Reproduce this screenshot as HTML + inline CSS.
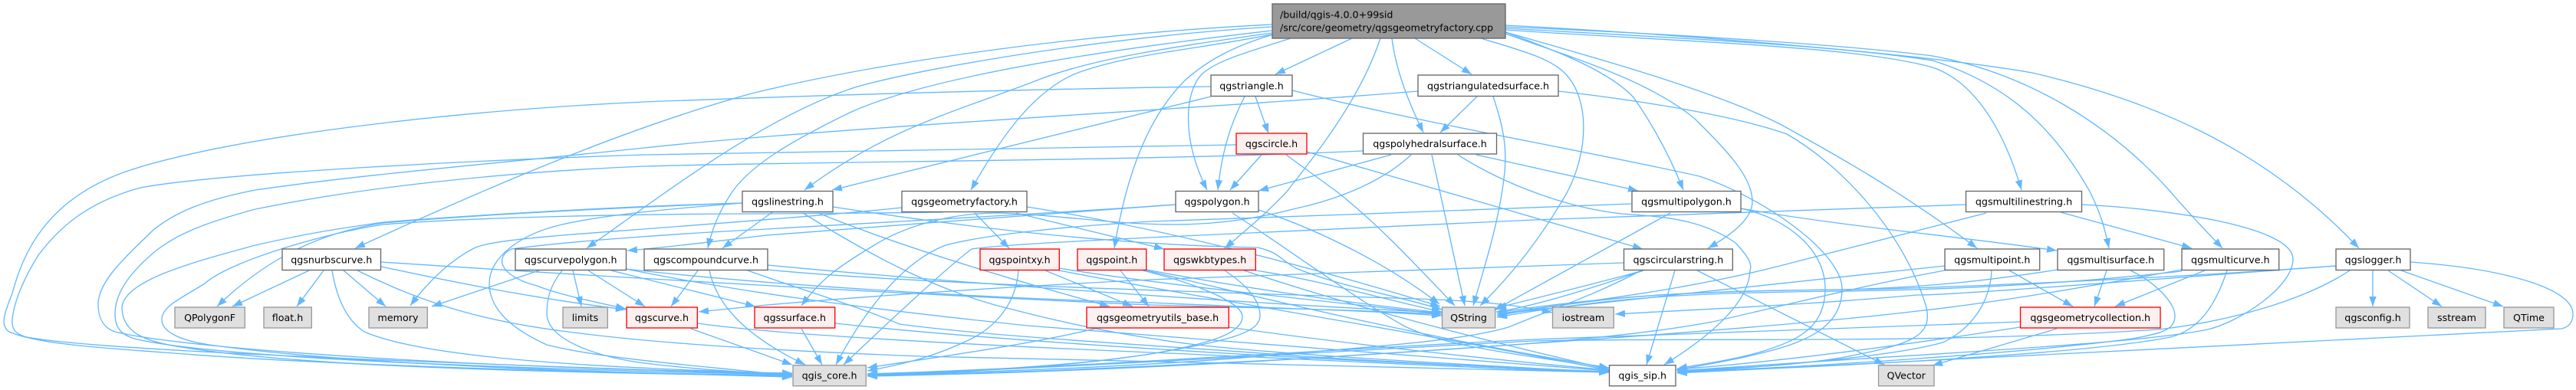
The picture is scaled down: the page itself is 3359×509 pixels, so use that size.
<!DOCTYPE html>
<html><head><meta charset="utf-8"><style>
html,body{margin:0;padding:0;background:#fff;width:3359px;height:509px;overflow:hidden}
svg{display:block}
.e path{fill:none;stroke:#63b8ff;stroke-width:1.33;marker-end:url(#a)}
.n rect{stroke-width:1.33}
.w rect{fill:#fff;stroke:#666}
.g rect{fill:#e0e0e0;stroke:#999}
.r rect{fill:#fff0f0;stroke:#f00}
text{font-family:"DejaVu Sans",sans-serif;font-size:12.67px;fill:#000;text-anchor:middle}
</style></head><body>
<svg width="3359" height="509" viewBox="0 0 3359 509" xmlns="http://www.w3.org/2000/svg">
<defs><marker id="a" markerUnits="userSpaceOnUse" markerWidth="16" markerHeight="12" refX="13" refY="4.7" orient="auto"><path d="M0,0L13,4.7L0,9.4z" fill="#63b8ff"/></marker></defs>
<g class="e">
<!-- root -->
<path d="M1658,32C1380,46 1130,85 980,122C850,158 700,215 463,324"/>
<path d="M1658,35C1450,48 1220,85 1118,113C1000,150 870,250 765,324"/>
<path d="M1658,40C1440,65 1210,100 1108,147C1030,185 980,215 955,250C938,275 928,300 923,324"/>
<path d="M1658,43C1540,60 1430,75 1357,103C1250,145 1160,165 1049,248"/>
<path d="M1658,45C1560,65 1470,70 1400,97C1350,120 1310,170 1266,248"/>
<path d="M1660,45C1610,60 1575,78 1545,105C1500,150 1470,220 1453,324"/>
<path d="M1683,50C1620,70 1585,80 1567,97C1545,120 1540,180 1574,248"/>
<path d="M1763,50L1663,97"/>
<path d="M1800,50C1775,125 1725,190 1678,250C1650,280 1625,300 1597,324"/>
<path d="M1815,50C1820,90 1835,130 1856,173"/>
<path d="M1845,50L1919,97"/>
<path d="M1931,50C1980,65 2020,75 2040,95C2075,130 2070,200 2044,250C2010,310 1970,360 1930,399"/>
<path d="M1963,42C2040,70 2100,95 2130,127C2160,170 2180,210 2195,248"/>
<path d="M1963,44C2050,75 2150,105 2210,155C2250,195 2285,230 2285,263C2285,285 2260,305 2227,324"/>
<path d="M1963,42C2080,75 2240,120 2323,163C2390,200 2480,250 2578,324"/>
<path d="M1963,33C2200,45 2520,72 2650,95C2800,130 2950,190 3076,324"/>
<path d="M1963,35C2200,45 2420,60 2520,73C2640,95 2750,160 2830,250C2860,285 2880,305 2898,324"/>
<path d="M1963,37C2200,50 2400,60 2520,79C2620,110 2680,170 2725,250C2740,280 2745,300 2750,324"/>
<path d="M1963,39C2200,55 2420,60 2520,88C2570,105 2610,160 2636,248"/>
<!-- triangle -->
<path d="M1579,113C1300,117 1050,125 840,133C580,145 290,180 161,225C60,262 30,330 16,383C5,410 0,425 12,433C50,450 150,455 214,460C400,475 700,485 1033,490"/>
<path d="M1685,118C1850,160 2060,195 2216,230C2300,258 2402,330 2402,377C2402,425 2360,445 2300,460C2260,470 2230,475 2186,483"/>
<path d="M1637,126L1654,174"/>
<path d="M1623,126C1600,170 1592,210 1588,248"/>
<path d="M1579,126L1085,248"/>
<!-- triangulated -->
<path d="M1849,119C1600,140 1100,165 840,193C650,213 470,228 333,248C260,262 225,280 200,300C170,330 128,365 128,397C128,415 135,428 150,433C240,455 600,480 1033,487"/>
<path d="M1926,126L1878,173"/>
<path d="M1947,126C1960,165 1965,190 1962,225C1955,290 1935,350 1921,399"/>
<path d="M2032,119C2130,130 2260,150 2330,175C2400,215 2480,300 2510,395C2525,440 2490,450 2400,467C2320,480 2250,480 2187,484"/>
<!-- circle -->
<path d="M1612,189C1300,193 1050,197 840,202C650,208 290,225 183,245C110,265 75,300 50,333C30,365 18,395 16,417C15,430 20,436 35,440C100,452 300,465 1033,489"/>
<path d="M1645,202L1604,248"/>
<path d="M1704,198L2142,325"/>
<path d="M1677,202L1743,250C1800,295 1850,350 1897,399"/>
<!-- polyhedral -->
<path d="M1777,197C1500,210 1100,210 840,217C650,225 470,245 333,273C270,290 230,305 200,330C165,360 150,385 150,410C150,430 160,437 175,442C270,465 600,480 1033,489"/>
<path d="M1901,202C1960,240 2050,275 2127,280C2180,283 2225,290 2263,317C2280,335 2285,345 2282,353C2280,400 2220,445 2170,476"/>
<path d="M1925,202L2136,249"/>
<path d="M1867,202L1910,399"/>
<path d="M1814,202L1641,249"/>
<path d="M1840,202C1800,240 1737,262 1690,272C1640,285 1590,293 1531,293C1450,293 1380,280 1300,278C1240,278 1180,295 1140,320C1090,350 1070,365 1045,399"/>
<!-- polygon -->
<path d="M1533,267C1400,277 1150,295 1000,307C930,315 880,322 818,327"/>
<path d="M1533,267C1400,277 1150,290 1000,299C880,305 740,315 667,325C645,335 650,360 700,373C730,385 780,395 816,403"/>
<path d="M1641,274C1720,300 1810,345 1877,397"/>
<path d="M1607,278C1680,325 1760,385 1830,425C1900,460 2030,465 2098,484"/>
<!-- linestring -->
<path d="M968,265C880,272 790,280 733,293C680,305 638,335 638,370C638,410 680,435 713,450C790,470 950,480 1033,491"/>
<path d="M968,265C780,272 600,282 500,291C420,303 350,335 283,400"/>
<path d="M968,265C780,270 560,285 500,290C430,300 400,305 333,320C260,340 160,365 159,402C160,435 190,445 230,452C400,480 700,485 1033,491"/>
<path d="M1230,277C1150,278 1050,279 1000,279C850,279 620,283 500,293C430,303 300,340 267,370C235,390 211,400 211,417C211,435 240,445 273,450C450,475 750,485 1033,492"/>
<path d="M1007,277L942,324"/>
<path d="M1086,270C1250,295 1450,320 1640,323C1670,330 1670,340 1690,350C1750,375 1820,385 1880,404"/>
<path d="M1067,278C1170,320 1300,360 1447,400"/>
<path d="M1047,278C1130,330 1220,380 1317,403C1400,425 1480,440 1560,450C1700,465 1900,475 2098,486"/>
<!-- factory -->
<path d="M1176,271C1060,283 850,298 733,307C690,311 640,315 620,323C590,338 560,365 535,399"/>
<path d="M1271,278L1316,324"/>
<path d="M1325,278L1518,325"/>
<path d="M1339,270C1500,295 1700,345 1878,400"/>
<!-- multipolygon -->
<path d="M2127,266C1950,272 1700,283 1500,289C1400,295 1290,305 1233,320C1180,340 1130,400 1090,476"/>
<path d="M2270,272C2330,285 2380,325 2380,377C2380,430 2340,445 2300,458C2260,470 2220,475 2187,481"/>
<path d="M2270,272C2400,295 2550,308 2682,327"/>
<path d="M2178,278L1948,405"/>
<!-- multilinestring -->
<path d="M2563,267C2300,275 2100,285 2000,287C1800,295 1650,303 1500,310C1400,315 1300,320 1267,325C1240,345 1180,400 1100,476"/>
<path d="M2590,278L2340,342C2200,380 2050,395 1952,410"/>
<path d="M2715,267C2820,272 2990,295 2990,338C2990,375 2920,420 2879,430C2780,450 2500,462 2187,484"/>
<path d="M2687,277L2858,324"/>
<!-- circular -->
<path d="M2118,343C1950,348 1700,358 1500,365C1300,375 1150,385 1000,398C960,402 930,405 911,407"/>
<path d="M2143,353C2080,370 2000,390 1951,402"/>
<path d="M2143,353C2080,375 2000,400 1951,407"/>
<path d="M2140,353C2080,385 2020,405 1967,427C1900,447 1750,455 1667,463C1500,478 1300,485 1131,490"/>
<path d="M2184,353L2147,476"/>
<path d="M2213,353L2457,476"/>
<!-- multipoint -->
<path d="M2536,347C2400,360 2100,395 1952,410"/>
<path d="M2536,353C2440,370 2300,405 2233,420C2100,445 1900,455 1700,468C1500,478 1300,488 1131,490"/>
<path d="M2597,353C2595,395 2570,430 2533,447C2470,465 2300,480 2187,485"/>
<path d="M2620,353L2703,400"/>
<!-- multisurface -->
<path d="M2683,352C2600,365 2520,375 2400,378C2200,380 2100,385 1952,412"/>
<path d="M2747,353L2731,400"/>
<path d="M2778,353C2810,368 2836,395 2836,412C2836,430 2820,435 2780,442C2650,460 2350,480 2187,485"/>
<!-- multicurve -->
<path d="M2845,352C2700,378 2600,395 2500,406C2300,430 1900,455 1700,468C1500,480 1300,488 1131,491"/>
<path d="M2845,354C2700,370 2550,378 2400,380C2200,382 2100,388 1952,414"/>
<path d="M2875,353L2758,400"/>
<path d="M2904,353C2890,395 2870,430 2830,440C2720,462 2400,478 2187,486"/>
<!-- logger -->
<path d="M3046,347C2800,365 2500,377 2400,378C2200,380 2100,386 1952,408"/>
<path d="M3046,347C2800,365 2550,385 2500,385C2350,398 2250,402 2106,410"/>
<path d="M3064,353C3000,395 2900,420 2815,430C2500,450 2200,440 2000,445C1800,455 1400,480 1131,489"/>
<path d="M3094,353L3094,400"/>
<path d="M3114,353L3184,400"/>
<path d="M3131,353L3264,400"/>
<path d="M3143,342C3260,350 3355,375 3355,410C3355,420 3350,427 3340,429L2187,487"/>
<!-- collection -->
<path d="M2634,420C2400,428 2200,435 2000,443C1800,452 1400,480 1131,488"/>
<path d="M2634,427C2550,440 2350,470 2187,482"/>
<path d="M2682,429L2520,477"/>
<!-- wkb -->
<path d="M1637,353C1720,365 1800,390 1880,407"/>
<path d="M1622,353C1720,385 1850,425 2098,482"/>
<path d="M1597,353C1630,375 1643,395 1643,412C1643,435 1600,445 1500,462C1380,480 1250,485 1131,488"/>
<!-- point -->
<path d="M1495,352C1600,372 1750,395 1880,408"/>
<path d="M1490,353C1560,370 1620,395 1620,413C1620,435 1580,448 1500,462C1400,478 1250,487 1131,489"/>
<path d="M1461,353L1498,400"/>
<path d="M1495,353C1650,390 1850,440 2098,480"/>
<!-- pointxy -->
<path d="M1328,353C1325,395 1300,425 1267,442C1220,465 1180,475 1131,484"/>
<path d="M1363,353L1477,400"/>
<path d="M1381,350C1500,370 1700,390 1880,410"/>
<path d="M1381,353C1600,395 1800,425 2098,483"/>
<!-- nurbs -->
<path d="M403,353L303,400"/>
<path d="M422,353L387,400"/>
<path d="M448,353L503,400"/>
<path d="M433,353C440,395 455,420 475,433C560,470 800,480 1033,488"/>
<path d="M466,353C560,400 640,420 733,432C850,448 1000,457 1200,465C1500,472 1900,480 2098,486"/>
<path d="M497,342C800,362 1200,385 1500,398C1650,402 1780,405 1880,410"/>
<path d="M497,348C600,370 700,390 816,404"/>
<!-- curvepolygon -->
<path d="M703,353L563,400"/>
<path d="M747,353L758,400"/>
<path d="M767,353L841,400"/>
<path d="M733,353C715,375 713,395 713,410C715,445 780,465 833,473C900,482 980,486 1033,490"/>
<path d="M797,353L985,400"/>
<path d="M816,351C1000,372 1300,390 1500,395C1650,402 1780,405 1880,412"/>
<path d="M816,351C950,378 1100,400 1340,425C1600,445 1900,470 2098,484"/>
<!-- compound -->
<path d="M910,353L875,400"/>
<path d="M925,353C935,400 975,440 1050,476"/>
<path d="M1001,346C1200,365 1600,395 1880,408"/>
<path d="M975,353C1050,380 1120,400 1173,423C1300,440 1500,450 1700,465C1850,475 1980,480 2098,486"/>
<path d="M1001,352C1200,372 1700,385 1850,390C1930,393 1980,398 2024,408"/>
<!-- surface, curve, utils -->
<path d="M1089,422C1300,445 1700,470 2098,485"/>
<path d="M1045,429L1072,476"/>
<path d="M910,422C1000,435 1200,447 1500,460C1700,468 1900,480 2098,486"/>
<path d="M901,429L1033,476"/>
<path d="M1432,428C1340,450 1230,465 1131,480"/>
<path d="M1602,427C1750,448 1950,470 2098,483"/>
</g>
<g class="n">
<g transform="translate(0,0)"><rect x="1659" y="5" width="304" height="45" fill="#999" stroke="#666" stroke-width="1.33"/><text x="1669" y="23.5" style="text-anchor:start">/build/qgis-4.0.0+99sid</text><text x="1669" y="40.5" style="text-anchor:start">/src/core/geometry/qgsgeometryfactory.cpp</text></g>
<g class="w"><rect x="1579" y="98" width="106" height="27.5"/><text x="1632" y="116.4">qgstriangle.h</text></g>
<g class="w"><rect x="1849" y="98" width="183" height="27.5"/><text x="1940.5" y="116.4">qgstriangulatedsurface.h</text></g>
<g class="r"><rect x="1612" y="174" width="92" height="27"/><text x="1658" y="192">qgscircle.h</text></g>
<g class="w"><rect x="1777.5" y="174" width="174" height="27"/><text x="1864.5" y="192">qgspolyhedralsurface.h</text></g>
<g class="w"><rect x="968" y="249.5" width="118" height="27"/><text x="1027" y="267.5">qgslinestring.h</text></g>
<g class="w"><rect x="1176" y="249.5" width="163" height="27"/><text x="1257.5" y="267.5">qgsgeometryfactory.h</text></g>
<g class="w"><rect x="1533" y="249.5" width="108" height="27"/><text x="1587" y="267.5">qgspolygon.h</text></g>
<g class="w"><rect x="2128" y="249.5" width="142" height="27"/><text x="2199" y="267.5">qgsmultipolygon.h</text></g>
<g class="w"><rect x="2563.5" y="249.5" width="151" height="27"/><text x="2639" y="267.5">qgsmultilinestring.h</text></g>
<g class="w"><rect x="368" y="325" width="128.5" height="27.5"/><text x="432.3" y="343.3">qgsnurbscurve.h</text></g>
<g class="w"><rect x="672" y="325" width="144.5" height="27.5"/><text x="744.2" y="343.3">qgscurvepolygon.h</text></g>
<g class="w"><rect x="840" y="325" width="161" height="27.5"/><text x="920.5" y="343.3">qgscompoundcurve.h</text></g>
<g class="r"><rect x="1278" y="325" width="103.3" height="27.5"/><text x="1329.6" y="343.3">qgspointxy.h</text></g>
<g class="r"><rect x="1405" y="325" width="89.7" height="27.5"/><text x="1449.8" y="343.3">qgspoint.h</text></g>
<g class="r"><rect x="1518" y="325" width="119.3" height="27.5"/><text x="1577.6" y="343.3">qgswkbtypes.h</text></g>
<g class="w"><rect x="2117.5" y="325" width="141.8" height="27.5"/><text x="2188.4" y="343.3">qgscircularstring.h</text></g>
<g class="w"><rect x="2536" y="325" width="123.7" height="27.5"/><text x="2597.8" y="343.3">qgsmultipoint.h</text></g>
<g class="w"><rect x="2683" y="325" width="138.7" height="27.5"/><text x="2752.3" y="343.3">qgsmultisurface.h</text></g>
<g class="w"><rect x="2845" y="325" width="126.7" height="27.5"/><text x="2908.3" y="343.3">qgsmulticurve.h</text></g>
<g class="w"><rect x="3046" y="325" width="97" height="27.5"/><text x="3094.5" y="343.3">qgslogger.h</text></g>
<g class="g"><rect x="228" y="401" width="91.3" height="27"/><text x="273.6" y="419">QPolygonF</text></g>
<g class="g"><rect x="344" y="401" width="62.3" height="27"/><text x="375" y="419">float.h</text></g>
<g class="g"><rect x="481" y="401" width="76.3" height="27"/><text x="519" y="419">memory</text></g>
<g class="g"><rect x="734" y="401" width="58.3" height="27"/><text x="763" y="419">limits</text></g>
<g class="r"><rect x="817" y="401" width="92.3" height="27"/><text x="863" y="419">qgscurve.h</text></g>
<g class="r"><rect x="984" y="401" width="104.7" height="27"/><text x="1036.3" y="419">qgssurface.h</text></g>
<g class="r"><rect x="1417" y="401" width="185.3" height="27"/><text x="1509.6" y="419">qgsgeometryutils_base.h</text></g>
<g class="g"><rect x="1880.5" y="401" width="69.2" height="27"/><text x="1915" y="419">QString</text></g>
<g class="g"><rect x="2024.5" y="401" width="79.8" height="27"/><text x="2064.4" y="419">iostream</text></g>
<g class="r"><rect x="2634.5" y="401" width="182.5" height="27"/><text x="2725.7" y="419">qgsgeometrycollection.h</text></g>
<g class="g"><rect x="3046" y="401" width="96" height="27"/><text x="3094" y="419">qgsconfig.h</text></g>
<g class="g"><rect x="3166" y="401" width="75" height="27"/><text x="3203.5" y="419">sstream</text></g>
<g class="g"><rect x="3265" y="401" width="65" height="27"/><text x="3297.5" y="419">QTime</text></g>
<g class="g"><rect x="1034" y="476.7" width="95.3" height="27"/><text x="1081.6" y="494.6">qgis_core.h</text></g>
<g class="w"><rect x="2098.5" y="476.7" width="86.5" height="27"/><text x="2141.7" y="494.6">qgis_sip.h</text></g>
<g class="g"><rect x="2449.5" y="476.7" width="72.5" height="27"/><text x="2485.7" y="494.6">QVector</text></g>
</g>
</svg>
</body></html>
